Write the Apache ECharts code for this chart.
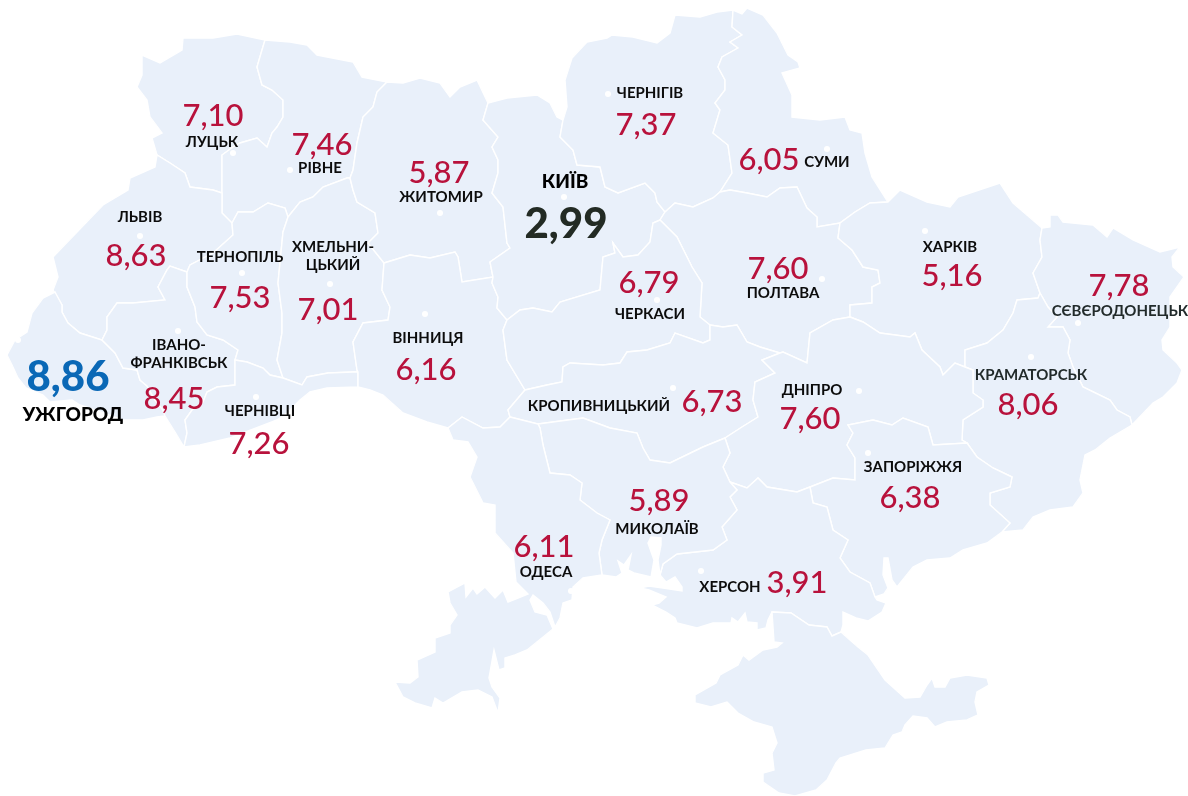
<!DOCTYPE html>
<html lang="uk">
<head>
<meta charset="utf-8">
<title>Ukraine map</title>
<script src="https://cdn.jsdelivr.net/npm/echarts@6/dist/echarts.min.js"></script>
<style>
  html, body { margin: 0; padding: 0; background: #fff; overflow: hidden; }
  #chart { width: 1188px; height: 796px; }
</style>
</head>
<body>
<div id="chart"></div>
<script>
// chart values
const cities = ["ЛУЦЬК", "РІВНЕ", "ЛЬВІВ", "ТЕРНОПІЛЬ", "ХМЕЛЬНИ-\nЦЬКИЙ", "ІВАНО-\nФРАНКІВСЬК", "ЧЕРНІВЦІ", "УЖГОРОД", "ВІННИЦЯ", "ЖИТОМИР", "КИЇВ", "ЧЕРНІГІВ", "СУМИ", "ЧЕРКАСИ", "ПОЛТАВА", "ХАРКІВ", "СЄВЄРОДОНЕЦЬК", "КРАМАТОРСЬК", "ДНІПРО", "ЗАПОРІЖЖЯ", "КРОПИВНИЦЬКИЙ", "МИКОЛАЇВ", "ОДЕСА", "ХЕРСОН"];
const values = [7.10, 7.46, 8.63, 7.53, 7.01, 8.45, 7.26, 8.86, 6.16, 5.87, 2.99, 7.37, 6.05, 6.79, 7.60, 5.16, 7.78, 8.06, 7.60, 6.38, 6.73, 5.89, 6.11, 3.91];

// where things sit on the map (same order as cities)
const dotAt = [[233,153],[290,170],[140,236],[242,273],[330,284],[178,331],[256,397],[18,340],[425,314],[440,213],[564,197],[608,94],[827,149],[657,300],[822,279],[925,231],[1078,323],[1031,357],[859,391],[868,453],[673,388],[657,541],[571,591],[701,571]];
const valueAt = [[213,114],[322,143],[136,254],[240,296],[328,308],[174,397],[259,442],[68,375],[426,368],[439,171],[566,222],[646,123],[769,158],[649,281],[778,267],[952,274],[1119,284],[1028,403],[810,417],[910,496],[712,400],[659,499],[544,545],[797,581]];
const nameAt = [[212,142],[320,168],[140,217],[240,257],[333,256],[179,354],[260,411],[73,415],[428,338],[441,197],[565,182],[650,93],[827,162],[650,314],[783,293],[950,247],[1120,311],[1031,375],[812,390],[913,467],[599,406],[657,529],[546,572],[730,587]];

// shared region borders
const arcs = {
  vol_out: [[265,40],[237,34],[213,38],[183,38],[182,50],[160,63],[142,55],[142,75],[137,87],[147,100],[150,117],[162,133],[152,138],[157,155]],
  vol_lviv: [[157,155],[170,163],[185,173],[190,187],[213,190],[222,193]],
  vol_riv: [[265,40],[262,50],[257,67],[262,85],[272,90],[283,100],[283,117],[277,127],[272,133],[267,147],[257,138],[240,143],[233,147],[222,155],[222,193]],
  riv_out: [[265,40],[290,42],[307,45],[317,55],[353,62],[362,77],[387,82]],
  riv_zhy: [[387,82],[377,92],[373,107],[363,117],[357,143],[353,170],[350,178]],
  riv_khm: [[350,178],[347,178],[323,187],[313,197],[300,202],[288,217]],
  riv_ter: [[288,217],[285,208],[268,203],[253,212],[238,212],[232,223]],
  lviv_riv: [[222,193],[222,213],[232,223]],
  lviv_out: [[157,155],[155,167],[130,178],[128,190],[103,205],[53,257],[58,277],[53,290],[62,305]],
  lviv_zak: [[62,305],[62,312],[68,323],[80,333],[102,340]],
  lviv_if: [[102,340],[107,330],[107,317],[117,303],[133,303],[165,300],[158,287],[167,270],[170,266],[187,272]],
  lviv_ter: [[187,272],[190,265],[213,253],[233,235],[232,223]],
  zak_out: [[62,305],[55,292],[43,298],[32,313],[27,332],[15,340],[7,355],[12,365],[18,378],[26,388],[43,395],[50,402],[72,400],[80,405],[95,410],[123,420],[143,420],[157,417],[165,416]],
  zak_if: [[102,340],[115,353],[123,368],[137,370],[140,380],[147,386],[155,400],[163,410],[165,416]],
  if_out: [[165,416],[175,432],[184,447]],
  if_ter: [[187,272],[187,287],[195,307],[197,322],[207,335],[223,340],[238,350],[235,360]],
  if_chv: [[235,360],[235,385],[217,387],[207,392],[203,402],[192,410],[185,420],[187,433],[184,447]],
  ter_khm: [[288,217],[283,232],[278,283],[282,313],[282,333],[277,360],[283,378]],
  ter_chv: [[235,360],[247,362],[263,368],[270,375],[283,378]],
  khm_chv: [[283,378],[302,385],[307,377],[328,373],[353,372],[358,372]],
  khm_zhy: [[350,178],[353,190],[357,202],[375,213],[378,233],[368,243],[384,263]],
  khm_vin: [[384,263],[382,290],[390,307],[388,320],[363,323],[353,342],[357,370],[358,372]],
  chv_vin: [[358,372],[358,387]],
  chv_out: [[358,387],[327,388],[310,392],[300,400],[287,413],[277,420],[230,438],[200,445],[184,447]],
  zhy_out: [[387,82],[403,83],[420,78],[440,83],[450,97],[460,87],[477,80],[488,103]],
  zhy_kyiv: [[488,103],[483,120],[498,137],[492,147],[498,160],[498,173],[492,193],[503,207],[507,243],[510,248],[490,262],[493,277]],
  zhy_vin: [[384,263],[410,255],[430,258],[455,252],[458,257],[462,282],[493,277]],
  vin_kyiv: [[493,277],[492,283],[498,297],[497,308],[507,320]],
  vin_cher: [[507,320],[503,330],[507,360],[525,390]],
  vin_kiro: [[525,390],[508,410],[510,417]],
  vin_ode: [[510,417],[500,427],[483,428],[462,417],[448,428]],
  vin_out: [[358,387],[370,390],[383,395],[403,413],[427,422],[448,428]],
  kyiv_out: [[488,103],[507,98],[537,95],[550,103],[557,117],[563,120]],
  kyiv_chern: [[563,120],[560,137],[573,150],[577,165],[600,167],[605,187],[618,193],[645,183],[655,193],[657,202],[665,212]],
  kyiv_polt: [[665,212],[660,220]],
  kyiv_cher: [[660,220],[653,223],[650,242],[638,255],[623,257],[613,243],[615,253],[603,257],[600,290],[560,302],[552,312],[533,308],[520,310],[507,320]],
  chern_out: [[563,120],[567,107],[565,80],[572,58],[587,42],[607,38],[612,35],[633,37],[657,43],[670,33],[675,15],[700,17],[717,12],[733,10]],
  chern_sum: [[733,10],[732,27],[742,35],[730,42],[738,48],[722,57],[718,67],[725,80],[725,90],[715,103],[720,110],[713,133],[728,145],[732,173],[720,192]],
  chern_polt: [[665,212],[675,203],[693,207],[713,198],[720,192]],
  sum_out: [[733,10],[742,14],[747,8],[763,15],[777,33],[788,55],[798,62],[800,68],[782,73],[792,95],[792,117],[820,120],[845,117],[850,130],[862,133],[865,153],[872,177],[888,202]],
  sum_polt: [[720,192],[730,190],[747,193],[767,197],[780,188],[797,187],[807,208],[817,217],[817,227],[840,223]],
  sum_kha: [[840,223],[855,212],[870,203],[888,202]],
  polt_kha: [[840,223],[838,238],[852,250],[863,267],[878,270],[880,283],[872,287],[872,303],[850,305],[850,317]],
  polt_dni: [[850,317],[833,320],[810,333],[807,363],[783,352],[780,353]],
  polt_kiro: [[710,325],[723,327],[737,325],[747,342],[760,347],[780,353]],
  cher_polt: [[660,220],[677,237],[692,267],[702,283],[700,317],[710,325]],
  cher_kiro: [[710,325],[710,340],[703,343],[675,333],[670,343],[647,350],[627,352],[620,363],[603,365],[570,363],[563,367],[562,382],[547,385],[525,390]],
  kiro_dni: [[780,353],[762,360],[775,373],[755,382],[753,400],[758,417],[742,427],[725,438]],
  kiro_ode: [[510,417],[538,424]],
  kiro_myk: [[538,424],[583,418],[610,428],[637,433],[643,448],[650,460],[670,463],[703,447],[725,438]],
  ode_myk: [[538,424],[540,428],[543,445],[550,473],[570,475],[582,483],[580,500],[597,513],[610,520],[602,540],[599,553],[602,575]],
  ode_coast: [[448,428],[453,440],[468,442],[477,457],[470,477],[483,503],[495,505],[495,533],[513,553],[516,582],[528,594],[518,598],[508,602],[503,590],[495,598],[485,587],[477,594],[473,588],[466,597],[465,583],[448,592],[450,603],[457,615],[450,625],[450,633],[435,638],[435,652],[417,660],[418,677],[410,683],[395,682],[403,697],[415,703],[432,708],[435,698],[443,703],[462,692],[478,690],[492,697],[498,713],[500,698],[492,687],[489,678],[494,650],[499,670],[505,668],[505,658],[515,655],[527,650],[553,629],[547,615],[535,612],[530,600],[533,595],[543,603],[550,612],[555,627],[560,618],[563,603],[572,600],[573,587],[583,578],[602,575]],
  myk_coast: [[602,575],[616,577],[622,573],[618,561],[624,565],[631,555],[628,570],[634,573],[651,577],[654,560],[648,543],[651,537],[661,538],[661,545],[658,560],[660,575]],
  dni_myk: [[725,438],[730,453],[723,467],[730,482]],
  myk_kher: [[730,482],[737,490],[730,497],[737,510],[722,527],[727,540],[713,550],[695,552],[677,554],[663,564],[660,575]],
  kher_w: [[660,575],[666,582],[675,577],[682,587],[682,591],[663,588],[649,586],[640,588],[649,590],[666,597],[659,603],[645,607],[654,606],[666,612],[675,618],[677,623],[697,628],[713,623],[731,623],[732,618],[738,622],[745,613],[747,622],[757,623],[757,630],[766,628],[768,620],[772,612]],
  crimea_kher: [[772,612],[791,613],[809,625],[827,627],[832,636],[841,632]],
  kher_e: [[841,632],[843,625],[843,612],[856,618],[868,621],[882,612],[886,603],[877,600],[875,597]],
  dni_kher: [[730,482],[747,488],[758,478],[767,487],[797,492],[810,487]],
  kher_zap: [[810,487],[813,503],[827,507],[833,530],[848,540],[840,558],[850,572],[870,583],[875,597]],
  dni_zap: [[967,443],[933,445],[928,427],[903,418],[892,425],[873,420],[848,425],[853,433],[847,445],[855,458],[855,480],[833,478],[810,487]],
  zap_coast: [[875,597],[884,594],[888,588],[883,575],[884,558],[888,558],[892,580],[897,587],[913,567],[927,560],[950,558],[963,550],[987,543],[1002,532]],
  zap_don: [[967,443],[977,457],[993,468],[1012,477],[1010,487],[990,493],[990,505],[1010,523],[1002,532]],
  dni_don: [[965,367],[973,370],[973,393],[983,400],[983,407],[963,420],[962,440],[967,443]],
  kha_dni: [[850,317],[863,322],[880,333],[910,337],[915,333],[922,350],[940,367],[943,375],[955,363],[965,367]],
  kha_don: [[1040,293],[1038,298],[1017,300],[1013,313],[1003,330],[987,343],[965,350],[965,367]],
  kha_out: [[888,202],[900,190],[927,202],[950,207],[958,197],[1000,183],[1013,203],[1042,228]],
  kha_luh: [[1042,228],[1040,240],[1042,257],[1033,273],[1040,293]],
  luh_out: [[1042,228],[1050,227],[1050,215],[1058,215],[1063,222],[1093,225],[1107,237],[1113,228],[1133,240],[1160,252],[1180,247],[1172,257],[1173,267],[1184,277],[1170,297],[1170,327],[1162,340],[1163,350],[1177,363],[1182,370],[1177,383],[1163,397],[1153,403],[1132,425]],
  luh_don: [[1040,293],[1048,307],[1057,317],[1048,327],[1063,327],[1070,340],[1068,353],[1073,367],[1083,387],[1110,400],[1117,410],[1130,417],[1132,425]],
  don_out: [[1132,425],[1110,438],[1095,450],[1085,455],[1080,480],[1083,493],[1073,507],[1050,510],[1033,517],[1023,530],[1002,532]],
  crimea_out: [[841,632],[850,640],[858,647],[868,655],[885,680],[905,698],[920,697],[927,685],[932,678],[935,687],[945,687],[950,678],[967,675],[987,678],[989,685],[977,692],[975,702],[978,715],[967,720],[947,722],[935,727],[927,718],[913,716],[905,725],[902,732],[893,735],[885,748],[866,750],[840,758],[836,763],[827,780],[816,790],[795,796],[779,793],[763,782],[763,773],[774,770],[772,753],[777,743],[772,727],[754,722],[738,713],[727,702],[711,707],[695,703],[695,695],[716,683],[720,675],[738,665],[743,655],[749,660],[763,650],[777,647],[782,643],[774,642],[772,612]]
};

// region outlines, "-" walks a border backwards
const regions = {
  "Волинська": ["vol_out", "vol_lviv", "-vol_riv"],
  "Рівненська": ["riv_out", "riv_zhy", "riv_khm", "riv_ter", "-lviv_riv", "-vol_riv"],
  "Львівська": ["lviv_out", "lviv_zak", "lviv_if", "lviv_ter", "-lviv_riv", "-vol_lviv"],
  "Закарпатська": ["zak_out", "-zak_if", "-lviv_zak"],
  "Івано-Франківська": ["lviv_if", "if_ter", "if_chv", "-if_out", "-zak_if"],
  "Тернопільська": ["lviv_ter", "-riv_ter", "ter_khm", "-ter_chv", "-if_ter"],
  "Хмельницька": ["-riv_khm", "khm_zhy", "khm_vin", "-khm_chv", "-ter_khm"],
  "Чернівецька": ["ter_chv", "khm_chv", "chv_vin", "chv_out", "-if_chv"],
  "Житомирська": ["zhy_out", "zhy_kyiv", "-zhy_vin", "-khm_zhy", "-riv_zhy"],
  "Вінницька": ["zhy_vin", "vin_kyiv", "vin_cher", "vin_kiro", "vin_ode", "-vin_out", "-chv_vin", "-khm_vin"],
  "Київська": ["kyiv_out", "kyiv_chern", "kyiv_polt", "kyiv_cher", "-vin_kyiv", "-zhy_kyiv"],
  "Чернігівська": ["chern_out", "chern_sum", "-chern_polt", "-kyiv_chern"],
  "Сумська": ["sum_out", "-sum_kha", "-sum_polt", "-chern_sum"],
  "Полтавська": ["chern_polt", "sum_polt", "polt_kha", "polt_dni", "-polt_kiro", "-cher_polt", "-kyiv_polt"],
  "Черкаська": ["cher_polt", "cher_kiro", "-vin_cher", "-kyiv_cher"],
  "Кіровоградська": ["polt_kiro", "kiro_dni", "-kiro_myk", "-kiro_ode", "-vin_kiro", "-cher_kiro"],
  "Харківська": ["kha_out", "kha_luh", "kha_don", "-kha_dni", "-polt_kha", "sum_kha"],
  "Луганська": ["luh_out", "-luh_don", "-kha_luh"],
  "Донецька": ["luh_don", "don_out", "-zap_don", "-dni_don", "-kha_don"],
  "Дніпропетровська": ["kha_dni", "dni_don", "dni_zap", "-dni_kher", "-dni_myk", "-kiro_dni", "-polt_dni"],
  "Запорізька": ["zap_don", "-zap_coast", "-kher_zap", "-dni_zap"],
  "Херсонська": ["dni_kher", "kher_zap", "-kher_e", "-crimea_kher", "-kher_w", "-myk_kher"],
  "Миколаївська": ["kiro_myk", "dni_myk", "myk_kher", "-myk_coast", "-ode_myk"],
  "Одеська": ["kiro_ode", "ode_myk", "-ode_coast", "-vin_ode"],
  "АР Крим": ["crimea_kher", "crimea_out"]
};

const ring = (names) => {
  let pts = [];
  names.forEach((n) => {
    const a = n[0] === "-" ? [...arcs[n.slice(1)]].reverse() : arcs[n];
    pts = pts.concat(a);
  });
  return pts;
};

echarts.registerMap("ukraine", {
  type: "FeatureCollection",
  features: Object.keys(regions).map((name) => ({
    type: "Feature",
    properties: { name },
    geometry: { type: "Polygon", coordinates: [ring(regions[name])] },
  })),
});

const fontFamily = "Lato, 'Noto Sans', sans-serif";
const red = "#b8123c";
const fmt = (v) => v.toFixed(2).replace(".", ",");

// the two cities called out in the picture
const valueStyle = {
  "УЖГОРОД": { color: "#0a68b6", fontSize: 42, fontWeight: 900 },
  "КИЇВ": { color: "#232b24", fontSize: 42, fontWeight: 900 },
};
const nameStyle = {
  "УЖГОРОД": { fontSize: 19, fontWeight: 900, color: "#000" },
  "КИЇВ": { fontSize: 19, fontWeight: 900, color: "#000" },
  "СЄВЄРОДОНЕЦЬК": { color: "#222b2b" },
  "КРАМАТОРСЬК": { color: "#222b2b" },
};

const hidden = {
  type: "scatter",
  coordinateSystem: "geo",
  geoIndex: 0,
  symbolSize: 1,
  itemStyle: { color: "rgba(0,0,0,0)", opacity: 1 },
  silent: true,
  z: 5,
};

const chart = echarts.init(document.getElementById("chart"), null, { renderer: "canvas" });
chart.setOption({
  animation: false,
  backgroundColor: "#fff",
  geo: {
    map: "ukraine",
    projection: { project: (p) => p, unproject: (p) => p },
    boundingCoords: [[0, 0], [1188, 796]],
    left: 0,
    top: 0,
    width: 1188,
    height: 796,
    roam: false,
    silent: true,
    label: { show: false },
    itemStyle: { areaColor: "#e9f0fa", borderColor: "#fff", borderWidth: 1.4 },
  },
  series: [
    {
      name: "dots",
      type: "scatter",
      coordinateSystem: "geo",
      geoIndex: 0,
      symbolSize: 6,
      itemStyle: { color: "#fff", opacity: 1 },
      silent: true,
      z: 3,
      data: dotAt,
    },
    {
      ...hidden,
      name: "values",
      data: cities.map((c, i) => ({
        value: [...valueAt[i], values[i]],
        label: valueStyle[c] || {},
      })),
      label: {
        show: true,
        position: "inside",
        align: "center",
        verticalAlign: "middle",
        offset: [0, 2],
        fontFamily,
        fontSize: 31,
        fontWeight: 500,
        color: red,
        formatter: (p) => fmt(p.value[2]),
      },
    },
    {
      ...hidden,
      name: "names",
      data: cities.map((c, i) => ({
        value: nameAt[i],
        name: c,
        label: nameStyle[c] || {},
      })),
      label: {
        show: true,
        position: "inside",
        align: "center",
        verticalAlign: "middle",
        fontFamily,
        fontSize: 15,
        fontWeight: 700,
        lineHeight: 18,
        color: "#0c0c0c",
        formatter: (p) => p.name,
      },
    },
  ],
});
</script>
</body>
</html>
